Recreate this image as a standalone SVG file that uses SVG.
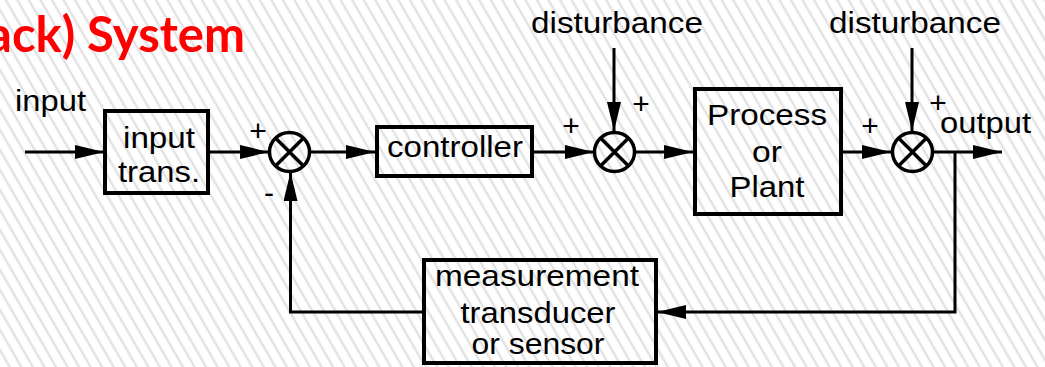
<svg xmlns="http://www.w3.org/2000/svg" width="1045" height="367" viewBox="0 0 1045 367">
  <defs>
    <!-- light diagonal hatching behind the whole slide -->
    <pattern id="hatch" width="10" height="10" patternUnits="userSpaceOnUse" patternTransform="rotate(-30)">
      <rect width="10" height="10" fill="#ffffff"/>
      <line x1="5" y1="0" x2="5" y2="10" stroke="#e2e2e2" stroke-width="2.4"/>
    </pattern>
    <marker id="arrow" markerUnits="userSpaceOnUse" markerWidth="30" markerHeight="16" refX="29" refY="7" orient="auto">
      <path d="M0,0 L29,7 L0,14 Z" fill="#000"/>
    </marker>
    <style>
      .lbl { font-family: "Liberation Sans", Arial, sans-serif; font-size: 30px; fill: #000; }
      .mid { text-anchor: middle; }
      .box { fill: none; stroke: #000; stroke-width: 4; }
      .wire { fill: none; stroke: #000; stroke-width: 3; }
      .sum { fill: none; stroke: #000; stroke-width: 3.5; }
      .title { font-family: Lato, "Open Sans", sans-serif; font-weight: bold; font-size: 50px; fill: #ff0000; }
    </style>
  </defs>

  <rect x="0" y="0" width="1045" height="367" fill="url(#hatch)"/>

  <text class="title" x="-13" y="52" textLength="258" lengthAdjust="spacingAndGlyphs">ack) System</text>

  <!-- free labels -->
  <text class="lbl" x="15" y="111" textLength="71" lengthAdjust="spacingAndGlyphs">input</text>
  <text class="lbl" x="531" y="33" textLength="172" lengthAdjust="spacingAndGlyphs">disturbance</text>
  <text class="lbl" x="829" y="33" textLength="172" lengthAdjust="spacingAndGlyphs">disturbance</text>
  <text class="lbl" x="940" y="133" textLength="91" lengthAdjust="spacingAndGlyphs">output</text>

  <!-- signs at the summing junctions -->
  <text class="lbl mid" x="258" y="141">+</text>
  <text class="lbl mid" x="269" y="203">-</text>
  <text class="lbl mid" x="571" y="136">+</text>
  <text class="lbl mid" x="641" y="114">+</text>
  <text class="lbl mid" x="870" y="136">+</text>
  <text class="lbl mid" x="938" y="113">+</text>

  <!-- connectors -->
  <g id="connectors">
    <line class="wire" x1="25" y1="152" x2="104" y2="152" marker-end="url(#arrow)"/>
    <line class="wire" x1="209" y1="152" x2="269" y2="152" marker-end="url(#arrow)"/>
    <line class="wire" x1="310" y1="152" x2="375" y2="152" marker-end="url(#arrow)"/>
    <line class="wire" x1="533" y1="152" x2="594" y2="152" marker-end="url(#arrow)"/>
    <line class="wire" x1="614" y1="48" x2="614" y2="131" marker-end="url(#arrow)"/>
    <line class="wire" x1="636" y1="152" x2="693" y2="152" marker-end="url(#arrow)"/>
    <line class="wire" x1="842" y1="152" x2="891" y2="152" marker-end="url(#arrow)"/>
    <line class="wire" x1="912" y1="48" x2="912" y2="131" marker-end="url(#arrow)"/>
    <line class="wire" x1="934" y1="152" x2="1002" y2="152" marker-end="url(#arrow)"/>
    <polyline class="wire" points="955,152 955,312 657,312" marker-end="url(#arrow)"/>
    <polyline class="wire" points="422,312 290.5,312 290.5,172" marker-end="url(#arrow)"/>
  </g>

  <!-- summing junctions -->
  <g id="sum1">
    <ellipse class="sum" cx="289.5" cy="152" rx="20" ry="19.5"/>
    <path class="sum" d="M275.5,138 L303.5,166 M303.5,138 L275.5,166"/>
  </g>
  <g id="sum2">
    <ellipse class="sum" cx="614.5" cy="152" rx="20" ry="19.5"/>
    <path class="sum" d="M600.5,138 L628.5,166 M628.5,138 L600.5,166"/>
  </g>
  <g id="sum3">
    <ellipse class="sum" cx="912.5" cy="152" rx="20" ry="19.5"/>
    <path class="sum" d="M898.5,138 L926.5,166 M926.5,138 L898.5,166"/>
  </g>

  <!-- blocks -->
  <g id="input-trans">
    <rect class="box" x="105" y="111" width="103" height="82"/>
    <text class="lbl" x="123" y="148" textLength="72" lengthAdjust="spacingAndGlyphs">input</text>
    <text class="lbl" x="118" y="182" textLength="82" lengthAdjust="spacingAndGlyphs">trans.</text>
  </g>
  <g id="controller">
    <rect class="box" x="377" y="127" width="155" height="49"/>
    <text class="lbl" x="387" y="157" textLength="136" lengthAdjust="spacingAndGlyphs">controller</text>
  </g>
  <g id="process">
    <rect class="box" x="695" y="89" width="146" height="125"/>
    <text class="lbl" x="707" y="125" textLength="120" lengthAdjust="spacingAndGlyphs">Process</text>
    <text class="lbl mid" x="767" y="162" textLength="30" lengthAdjust="spacingAndGlyphs">or</text>
    <text class="lbl mid" x="767" y="197" textLength="75" lengthAdjust="spacingAndGlyphs">Plant</text>
  </g>
  <g id="sensor">
    <rect class="box" x="424" y="260" width="232" height="103"/>
    <text class="lbl" x="435" y="286" textLength="204" lengthAdjust="spacingAndGlyphs">measurement</text>
    <text class="lbl mid" x="538" y="323" textLength="155" lengthAdjust="spacingAndGlyphs">transducer</text>
    <text class="lbl mid" x="538" y="354" textLength="133" lengthAdjust="spacingAndGlyphs">or sensor</text>
  </g>
</svg>
